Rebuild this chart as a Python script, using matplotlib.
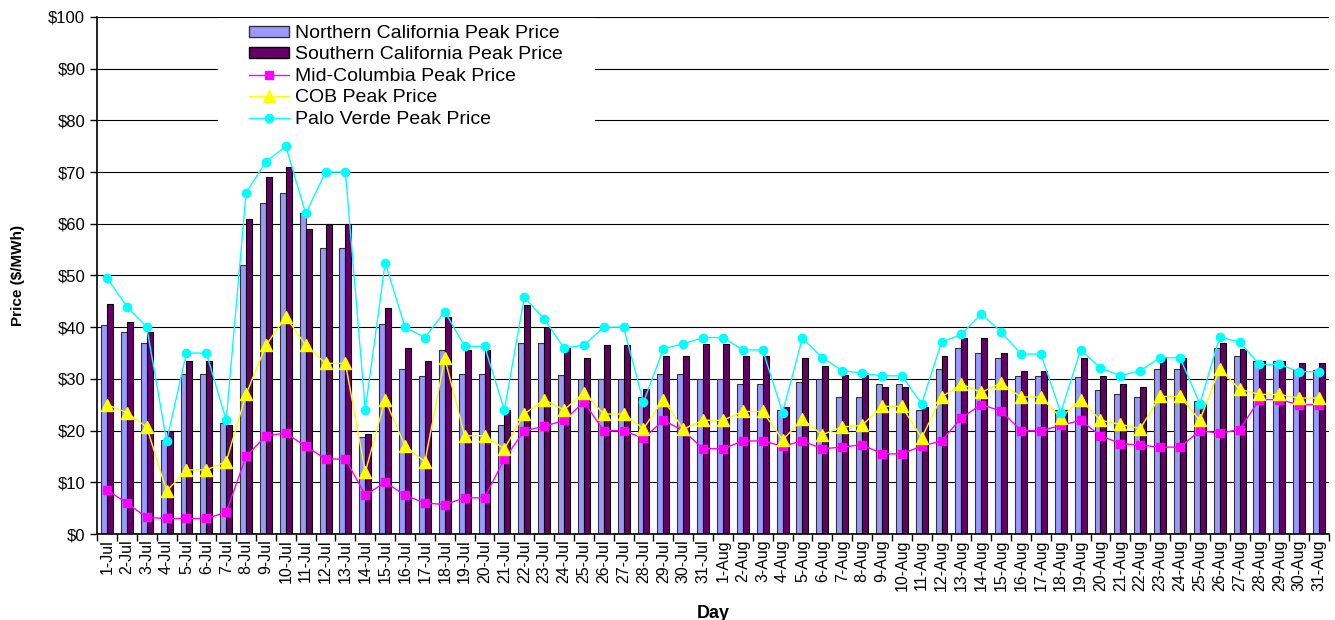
import matplotlib
matplotlib.use("Agg")
import matplotlib.pyplot as plt
import numpy as np
from matplotlib.patches import Patch, Rectangle
from matplotlib.lines import Line2D

plt.rcParams["font.family"] = ["Liberation Sans", "DejaVu Sans"]

days = [f"{d}-Jul" for d in range(1, 32)] + [f"{d}-Aug" for d in range(1, 32)]

north_ca = [40.5, 39, 37, 18.2, 31, 31, 21.5, 52, 64, 66, 62, 55.3, 55.3, 18.7, 40.7, 32,
            30.5, 35.5, 31, 31, 21, 37, 37, 30.7, 30, 30, 30, 26.5, 31, 31, 30,
            30, 29, 29, 23.9, 29.4, 30, 26.5, 26.5, 29, 29, 23.9, 32, 36, 35, 34,
            30.6, 30.6, 23.9, 30.4, 27.9, 27, 26.5, 32, 32, 25.7, 36, 34.5, 33.5, 33.5, 31.7, 31.7]
south_ca = [44.5, 41, 39, 20, 33.5, 33.5, 21, 61, 69, 71, 59, 60, 60, 19.3, 43.8, 36,
            33.5, 42, 35.5, 35.5, 24, 44.3, 40, 36, 34, 36.5, 36.5, 28, 34.5, 34.5, 36.7,
            36.7, 34.5, 34.5, 24.5, 34, 32.5, 30.7, 30.8, 28.5, 28.5, 24.5, 34.5, 38, 38, 35,
            31.5, 31.5, 23.9, 34, 30.5, 29, 28.5, 34, 34, 25.2, 37, 35.7, 33.5, 33.5, 33, 33]
mid_columbia = [8.5, 6, 3.2, 3, 3, 3, 4.2, 15, 19, 19.5, 17, 14.5, 14.5, 7.5, 10, 7.5,
                6, 5.7, 7, 7, 14.5, 20, 20.8, 22, 25.5, 20, 20, 18.5, 22, 20, 16.5,
                16.5, 18, 18, 17, 18, 16.5, 16.8, 17.3, 15.5, 15.5, 17, 18, 22.5, 25, 23.8,
                20, 20, 21, 22, 19, 17.5, 17.2, 16.8, 16.8, 20, 19.5, 20.2, 26, 26, 25, 25]
cob = [25, 23.5, 20.7, 8.3, 12.4, 12.4, 14, 27, 36.5, 42, 36.5, 33, 33, 12, 26, 17,
       14, 34, 19, 19, 16.5, 23.2, 26, 24, 27.3, 23.2, 23.2, 20.4, 26, 20.3, 22,
       22, 23.7, 23.7, 18.2, 22.2, 19.2, 20.7, 21, 24.7, 24.7, 18.6, 26.5, 29, 27.4, 29.2,
       26.5, 26.5, 22.5, 26, 22, 21.2, 20.4, 26.6, 26.6, 22, 32, 28, 27, 27, 26.3, 26.3]
palo_verde = [49.5, 44, 40, 18, 35, 35, 22, 66, 72, 75, 62, 70, 70, 24, 52.5, 40,
              38, 43, 36.3, 36.3, 24, 45.8, 41.6, 36, 36.5, 40, 40, 25.5, 35.8, 36.8, 38,
              38, 35.6, 35.6, 23.5, 37.9, 34.1, 31.6, 31.1, 30.6, 30.6, 25.2, 37.1, 38.6, 42.6, 39.1,
              34.8, 34.8, 23.5, 35.6, 32.1, 30.6, 31.6, 34.1, 34.1, 25.2, 38.1, 37.1, 32.8, 32.8, 31.4, 31.4]

fig = plt.figure(figsize=(13.35, 6.2), dpi=100)
ax = fig.add_axes([0.0727, 0.1387, 0.9228, 0.8339])

x = np.arange(len(days))
w = 0.3
ax.bar(x - w / 2, north_ca, w, color="#9999FF", edgecolor="#333333", linewidth=0.8, zorder=2)
ax.bar(x + w / 2, south_ca, w, color="#660066", edgecolor="black", linewidth=0.8, zorder=2)
ax.plot(x, mid_columbia, color="#FF00FF", lw=1, marker="s", ms=6, zorder=3)
ax.plot(x, cob, color="#FFFF00", lw=1, marker="^", ms=8, zorder=3)
ax.plot(x, palo_verde, color="#00FFFF", lw=1, marker="o", ms=6, zorder=3)

ax.set_xlim(-0.5, len(days) - 0.5)
ax.set_ylim(0, 100)
ax.set_yticks(np.arange(0, 101, 10))
ax.set_yticklabels([f"${v}" for v in range(0, 101, 10)], fontsize=12)
ax.yaxis.grid(True, color="black", lw=0.8, zorder=0)
ax.set_axisbelow(True)
ax.tick_params(axis="y", length=5, width=1, direction="out")

ax.set_xticks(x)
ax.set_xticklabels(days, rotation=90, fontsize=11.5)
ax.tick_params(axis="x", which="major", length=0, pad=4)
ax.set_xticks(np.arange(-0.5, len(days), 1), minor=True)
ax.tick_params(axis="x", which="minor", length=5, width=1, direction="out")

for s in ("top", "right"):
    ax.spines[s].set_visible(False)
ax.spines["left"].set_linewidth(1.2)
ax.spines["bottom"].set_linewidth(1.2)

ax.set_ylabel("Price ($/MWh)", fontsize=11, fontweight="bold", labelpad=17)
ax.set_xlabel("Day", fontsize=13, fontweight="bold", labelpad=10)

# white block behind the legend hides the gridlines, as in the source chart
ax.add_patch(Rectangle((0.098, 0.78), 0.306, 0.218, transform=ax.transAxes,
                       facecolor="white", edgecolor="none", zorder=1))

handles = [
    Patch(facecolor="#9999FF", edgecolor="#333333", label="Northern California Peak Price"),
    Patch(facecolor="#660066", edgecolor="black", label="Southern California Peak Price"),
    Line2D([], [], color="#FF00FF", marker="s", ms=6, lw=1, label="Mid-Columbia Peak Price"),
    Line2D([], [], color="#FFFF00", marker="^", ms=8, lw=1, label="COB Peak Price"),
    Line2D([], [], color="#00FFFF", marker="o", ms=6, lw=1, label="Palo Verde Peak Price"),
]
leg = ax.legend(handles=handles, loc="upper left", bbox_to_anchor=(0.120, 0.992),
                borderaxespad=0, frameon=False, fontsize=14, labelspacing=0.23,
                handlelength=2.06, handleheight=0.5, handletextpad=0.3, borderpad=0.2)
leg.set_zorder(5)

fig.savefig("out.png", dpi=100)
